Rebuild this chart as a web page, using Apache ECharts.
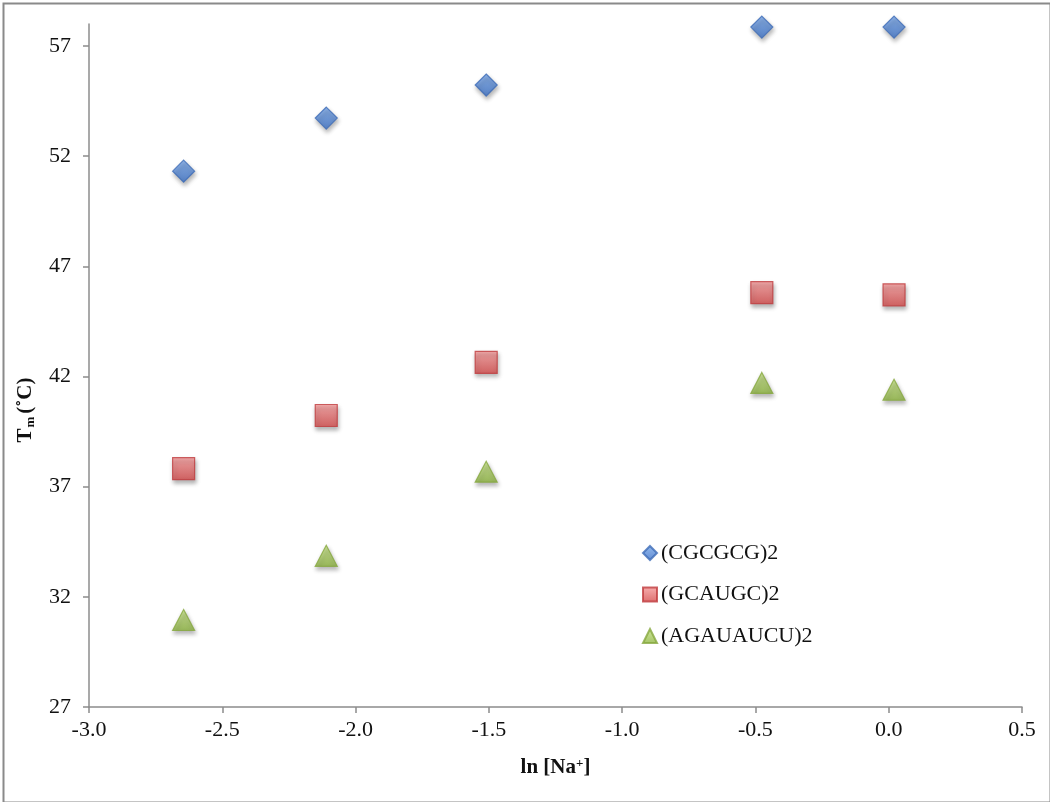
<!DOCTYPE html>
<html>
<head>
<meta charset="utf-8">
<script src="https://cdn.jsdelivr.net/npm/echarts@6/dist/echarts.min.js"></script>
<style>
html,body{margin:0;padding:0;background:#fff;}
#chart{width:1050px;height:802px;}
</style>
</head>
<body>
<div id="chart"></div>
<script>
// ---- data ----
var lnNa = [-2.645, -2.11, -1.51, -0.476, 0.02];
var seriesNames = ['(CGCGCG)2', '(GCAUGC)2', '(AGAUAUCU)2'];
var cgcgcg = [51.32, 53.73, 55.23, 57.86, 57.86];
var gcaugc = [37.82, 40.23, 42.64, 45.81, 45.71];
var agauaucu = [30.95, 33.86, 37.68, 41.71, 41.40];
var yTicks = [27, 32, 37, 42, 47, 52, 57];
var xTicks = [-3.0, -2.5, -2.0, -1.5, -1.0, -0.5, 0.0, 0.5];

function pairs(ys){ return ys.map(function(v,i){ return [lnNa[i], v]; }); }
function grad(top, bottom){
  return new echarts.graphic.LinearGradient(0,0,0,1,[{offset:0,color:top},{offset:1,color:bottom}]);
}
var FONT = '"Liberation Serif","Times New Roman",serif';
var axisColor = '#8c8c8c';

var chart = echarts.init(document.getElementById('chart'), null, {renderer:'canvas'});
var shadow = {shadowBlur:4, shadowColor:'rgba(0,0,0,0.35)', shadowOffsetY:3, shadowOffsetX:1};

chart.setOption({
  animation:false,
  backgroundColor:'#fff',
  textStyle:{fontFamily:FONT},
  graphic:[{
    type:'rect', left:1, top:1, silent:true,
    shape:{width:1047, height:799},
    style:{fill:'none', stroke:'#8a8a8a', lineWidth:2}
  }],
  grid:{left:89, right:28, top:24, bottom:95, containLabel:false},
  legend:{
    orient:'vertical', left:637, top:537,
    itemWidth:14, itemHeight:14, itemGap:19.5,
    textStyle:{fontFamily:FONT, fontSize:22, color:'#111', lineHeight:22, padding:[0,0,0,-1]},
    data:seriesNames
  },
  xAxis:{
    type:'value', min:-3.0, max:0.5, interval:0.5,
    name:'ln [Na{sup|+}]', nameLocation:'middle', nameGap:50,
    nameTextStyle:{fontFamily:FONT, fontSize:21, fontWeight:'bold', color:'#111',
      rich:{sup:{fontFamily:FONT, fontSize:13, fontWeight:'bold', color:'#111', padding:[0,0,9,0]}}},
    axisLine:{show:true, onZero:false, lineStyle:{color:axisColor, width:1.5}},
    axisTick:{show:true, length:6, lineStyle:{color:axisColor, width:1.5}},
    axisLabel:{fontFamily:FONT, fontSize:22, color:'#111', margin:12,
      formatter:function(v){ return v.toFixed(1); }},
    splitLine:{show:false}
  },
  yAxis:{
    type:'value', min:27, max:58, interval:5,
    name:'{b|T}{s|m}{b|(˚C)}', nameLocation:'middle', nameGap:52, nameRotate:90,
    nameTextStyle:{fontFamily:FONT, color:'#111', padding:[0,89,0,0],
      rich:{
        b:{fontFamily:FONT, fontSize:21, fontWeight:'bold', color:'#111'},
        s:{fontFamily:FONT, fontSize:13, fontWeight:'bold', color:'#111', padding:[9,3,0,1]}
      }},
    axisLine:{show:true, onZero:false, lineStyle:{color:axisColor, width:1.5}},
    axisTick:{show:true, length:6, lineStyle:{color:axisColor, width:1.5}, customValues:yTicks},
    axisLabel:{fontFamily:FONT, fontSize:22, color:'#111', margin:18, customValues:yTicks},
    splitLine:{show:false}
  },
  series:[
    {
      name:seriesNames[0], type:'scatter', symbol:'diamond', symbolSize:22,
      data:pairs(cgcgcg),
      itemStyle:Object.assign({color:grad('#76a5e8','#3c72c8'), borderColor:'#3d6cb6', borderWidth:1.2}, shadow)
    },
    {
      name:seriesNames[1], type:'scatter', symbol:'rect', symbolSize:22,
      data:pairs(gcaugc),
      itemStyle:Object.assign({color:grad('#f59a9a','#d44a4a'), borderColor:'#bf3b3d', borderWidth:1.2}, shadow)
    },
    {
      name:seriesNames[2], type:'scatter', symbol:'triangle', symbolSize:[22,21],
      data:pairs(agauaucu),
      itemStyle:Object.assign({color:grad('#c5e283','#8db440'), borderColor:'#86a83f', borderWidth:1.2}, shadow)
    }
  ]
});
</script>
</body>
</html>
